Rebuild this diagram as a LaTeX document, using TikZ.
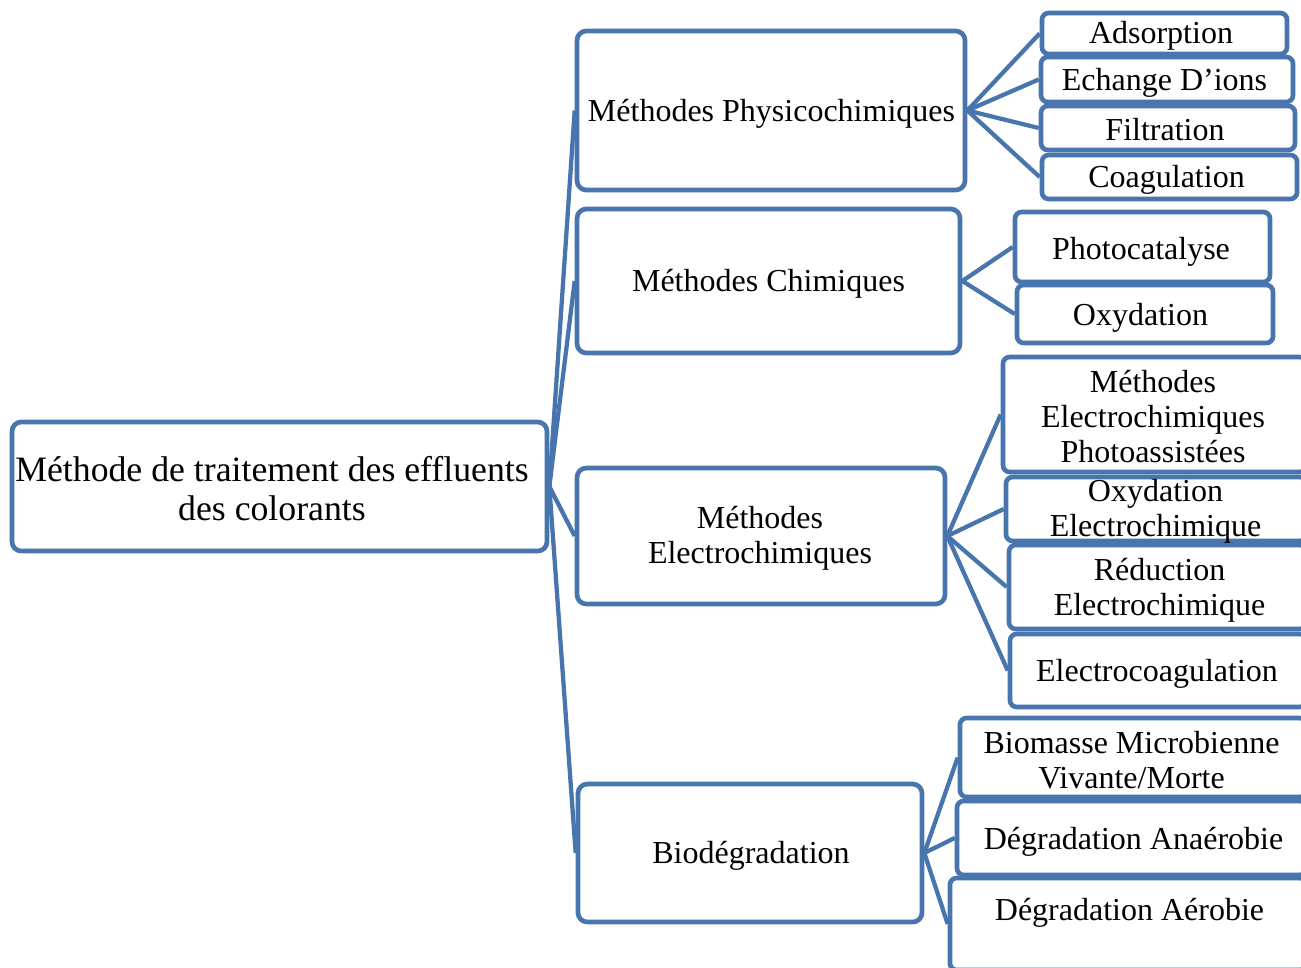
\documentclass[tikz,border=0pt]{standalone}
\usepackage{fontspec}
\setmainfont{Liberation Serif}
\usetikzlibrary{fit}
\definecolor{bl}{RGB}{72,117,173}
\begin{document}
\begin{tikzpicture}[x=0.75pt,y=-0.75pt,
  box/.style={draw=bl, line width=3.5pt, rounded corners=7pt, fill=white, inner sep=0pt},
  sbox/.style={box, rounded corners=5pt},
  txt/.style={inner sep=0pt, align=center, font=\fontsize{24}{26.25}\selectfont},
  rtxt/.style={txt, font=\fontsize{26.8}{29.25}\selectfont},
  link/.style={draw=bl, line width=3.2pt}]
\path[use as bounding box, clip] (0,0) rectangle (1301,967);
\fill[white] (0,0) rectangle (1301,967);
% boxes
\node[box, fit={(12,422) (547,551)}] (root) {};
\node[box, fit={(577,31) (965,190)}] (phys) {};
\node[box, fit={(577,209) (960,353)}] (chim) {};
\node[box, fit={(577,468) (945,604)}] (elec) {};
\node[box, fit={(578,784) (922,922)}] (bio) {};
\node[sbox, fit={(1042,13) (1287,54)}] (ads) {};
\node[sbox, fit={(1041,57) (1293,102)}] (ech) {};
\node[sbox, fit={(1041,106) (1295,150)}] (fil) {};
\node[sbox, fit={(1042,155) (1297,199)}] (coa) {};
\node[sbox, fit={(1015,212) (1270,282)}] (pho) {};
\node[sbox, fit={(1017,285) (1273,343)}] (oxy) {};
\node[sbox, fit={(1003,357) (1306,472)}] (mep) {};
\node[sbox, fit={(1006,477) (1306,541)}] (oxe) {};
\node[sbox, fit={(1009,545) (1306,629)}] (red) {};
\node[sbox, fit={(1010,634) (1306,707)}] (elc) {};
\node[sbox, fit={(960,718) (1306,797)}] (bmv) {};
\node[sbox, fit={(957,801) (1306,875)}] (dan) {};
\node[sbox, fit={(950,878) (1306,970)}] (dae) {};
% texts
\node[rtxt] (root-t) at (272,489) {Méthode de traitement des effluents\\des colorants};
\node[txt] (phys-t) at (771.5,114) {Méthodes Physicochimiques};
\node[txt] (chim-t) at (768.5,284) {Méthodes Chimiques};
\node[txt] (elec-t) at (760,538) {Méthodes\\Electrochimiques};
\node[txt] (bio-t) at (751,856) {Biodégradation};
\node[txt] (ads-t) at (1161,36) {Adsorption};
\node[txt] (ech-t) at (1164.5,83) {Echange D’ions};
\node[txt] (fil-t) at (1165,130) {Filtration};
\node[txt] (coa-t) at (1166.5,180) {Coagulation};
\node[txt] (pho-t) at (1141,252) {Photocatalyse};
\node[txt] (oxy-t) at (1140.5,318) {Oxydation};
\node[txt] (mep-t) at (1153,417) {Méthodes\\Electrochimiques\\Photoassistées};
\node[txt] (oxe-t) at (1155.5,511) {Oxydation\\Electrochimique};
\node[txt] (red-t) at (1159.5,590) {Réduction\\Electrochimique};
\node[txt] (elc-t) at (1157,674) {Electrocoagulation};
\node[txt] (bmv-t) at (1131.5,760) {Biomasse Microbienne\\Vivante/Morte};
\node[txt] (dan-t) at (1133.5,842) {Dégradation Anaérobie};
\node[txt] (dae-t) at (1129.5,913) {Dégradation Aérobie};
% connectors
\foreach \c in {phys,chim,elec,bio} \draw[link] (root.east) -- (\c.west);
\foreach \c in {ads,ech,fil,coa} \draw[link] (phys.east) -- (\c.west);
\foreach \c in {pho,oxy} \draw[link] (chim.east) -- (\c.west);
\foreach \c in {mep,oxe,red,elc} \draw[link] (elec.east) -- (\c.west);
\foreach \c in {bmv,dan,dae} \draw[link] (bio.east) -- (\c.west);
\end{tikzpicture}
\end{document}
